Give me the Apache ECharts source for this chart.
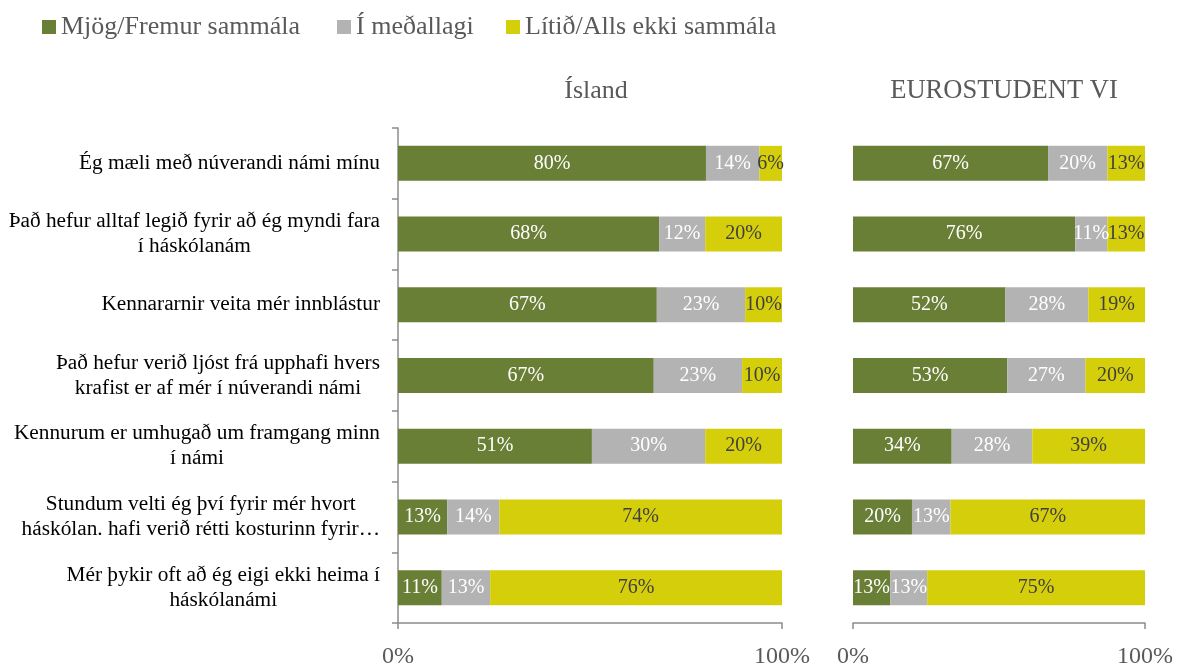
<!DOCTYPE html>
<html>
<head>
<meta charset="utf-8">
<script src="https://cdn.jsdelivr.net/npm/echarts@6/dist/echarts.min.js"></script>
<style>
  html, body { margin: 0; padding: 0; background: #fff; }
  #chart { width: 1189px; height: 669px; }
</style>
</head>
<body>
<div id="chart"></div>
<script>
// spurningar (flokkar)
var categories = [
  'Ég mæli með núverandi námi mínu',
  'Það hefur alltaf legið fyrir að ég myndi fara\ní háskólanám',
  'Kennararnir veita mér innblástur',
  'Það hefur verið ljóst frá upphafi hvers\nkrafist er af mér í núverandi námi',
  'Kennurum er umhugað um framgang minn\ní námi',
  'Stundum velti ég því fyrir mér hvort\nháskólan. hafi verið rétti kosturinn fyrir…',
  'Mér þykir oft að ég eigi ekki heima í\nháskólanámi'
];
var seriesNames = ['Mjög/Fremur sammála', 'Í meðallagi', 'Lítið/Alls ekki sammála'];
var panelTitles = ['Ísland', 'EUROSTUDENT VI'];
var xTickLabels = ['0%', '100%'];

// Ísland
var islandAgree   = [80.2, 68.0, 67.4, 66.6, 50.5, 12.8, 11.4];
var islandNeutral = [13.9, 12.0, 23.0, 23.0, 29.5, 13.6, 12.6];
var islandDisagr  = [5.9, 20.0, 9.6, 10.4, 20.0, 73.6, 76.0];

// EUROSTUDENT VI
var euroAgree   = [66.8, 76.1, 52.2, 52.8, 33.8, 20.2, 12.8];
var euroNeutral = [20.3, 11.0, 28.4, 26.8, 27.6, 13.2, 12.6];
var euroDisagr  = [12.9, 12.9, 19.4, 20.4, 38.6, 66.6, 74.6];

var font = 'Liberation Serif';
var colors = ['#6a7f36', '#b3b3b3', '#d5ce0a'];
var labelColors = ['#ffffff', '#ffffff', '#404040'];
var legendLeft = [37, 332, 501];

var myChart = echarts.init(document.getElementById('chart'));

function makeSeries(name, data, idx, axisIdx) {
  return {
    name: name,
    type: 'bar',
    stack: 'p' + axisIdx,
    xAxisIndex: axisIdx,
    yAxisIndex: axisIdx,
    barWidth: 35,
    itemStyle: { color: colors[idx] },
    label: {
      show: true,
      position: 'inside',
      fontFamily: font,
      fontSize: 20,
      color: labelColors[idx],
      formatter: function (p) { return Math.round(p.value) + '%'; }
    },
    data: data
  };
}

function xAxis(gridIdx) {
  return {
    gridIndex: gridIdx,
    type: 'value',
    min: 0,
    max: 100,
    interval: 100,
    splitLine: { show: false },
    axisLine: { show: true, lineStyle: { color: '#8c8c8c', width: 1.5 } },
    axisTick: { show: true, length: 6, lineStyle: { color: '#8c8c8c', width: 1.5 } },
    axisLabel: {
      margin: 22,
      fontFamily: font,
      fontSize: 24,
      color: '#595959',
      formatter: function (v) { return v === 0 ? xTickLabels[0] : xTickLabels[1]; }
    }
  };
}

// ein þjóðsaga fyrir hvern lit, svo staðsetningin verði rétt
var legends = seriesNames.map(function (n, i) {
  return {
    left: legendLeft[i],
    top: 9,
    itemWidth: 14,
    itemHeight: 14,
    itemGap: 0,
    icon: 'rect',
    data: [n],
    textStyle: { fontFamily: font, fontSize: 26, color: '#595959', padding: [0, 0, 0, 0] }
  };
});

var option = {
  backgroundColor: '#fff',
  animation: false,
  title: [
    { text: panelTitles[0], left: 591, top: 73, textAlign: 'center',
      textStyle: { fontFamily: font, fontSize: 26, fontWeight: 'normal', color: '#595959' } },
    { text: panelTitles[1], left: 999, top: 73, textAlign: 'center',
      textStyle: { fontFamily: font, fontSize: 26.5, fontWeight: 'normal', color: '#595959' } }
  ],
  legend: legends,
  grid: [
    { left: 398, width: 384, top: 128, height: 497 },
    { left: 853, width: 292, top: 128, height: 497 }
  ],
  xAxis: [xAxis(0), xAxis(1)],
  yAxis: [
    {
      gridIndex: 0,
      type: 'category',
      inverse: true,
      data: categories,
      axisLine: { show: true, lineStyle: { color: '#8c8c8c', width: 1.5 } },
      axisTick: { show: true, length: 6, lineStyle: { color: '#8c8c8c', width: 1.5 } },
      axisLabel: {
        margin: 18,
        align: 'right',
        formatter: function (v) {
          return v.split('\n').map(function (s) { return '{c|' + s + '}'; }).join('\n');
        },
        rich: {
          c: { align: 'center', fontFamily: font, fontSize: 21.3, lineHeight: 25, color: '#000' }
        }
      }
    },
    {
      gridIndex: 1,
      type: 'category',
      inverse: true,
      data: categories,
      axisLine: { show: false },
      axisTick: { show: false },
      axisLabel: { show: false }
    }
  ],
  series: [
    makeSeries(seriesNames[0], islandAgree, 0, 0),
    makeSeries(seriesNames[1], islandNeutral, 1, 0),
    makeSeries(seriesNames[2], islandDisagr, 2, 0),
    makeSeries(seriesNames[0], euroAgree, 0, 1),
    makeSeries(seriesNames[1], euroNeutral, 1, 1),
    makeSeries(seriesNames[2], euroDisagr, 2, 1)
  ]
};

myChart.setOption(option);
</script>
</body>
</html>
